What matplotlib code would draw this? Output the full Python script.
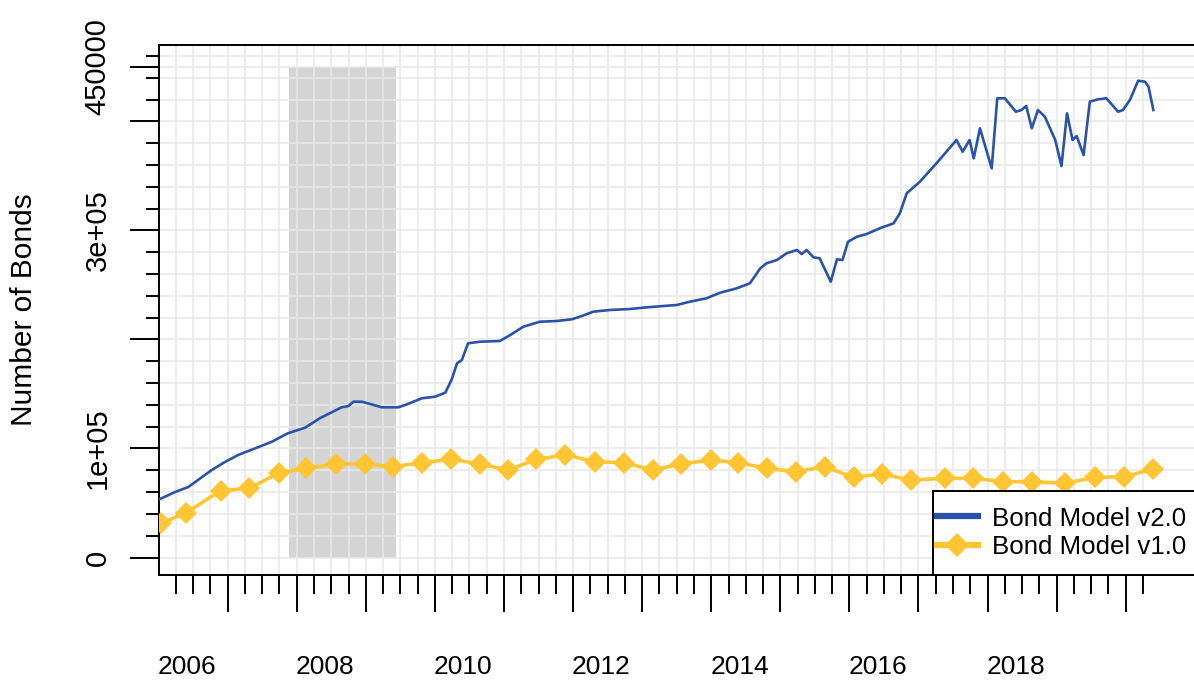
import numpy as np
import matplotlib
matplotlib.use("Agg")
import matplotlib.pyplot as plt
from matplotlib.lines import Line2D
from matplotlib.patches import Rectangle
from matplotlib.transforms import blended_transform_factory

plt.rcParams['font.family'] = ['Liberation Sans', 'DejaVu Sans']

# Bond Model v2.0 : decimal year / number of bonds
v2_years = [2006.02, 2006.24, 2006.43, 2006.57, 2006.77, 2006.96, 2007.15, 2007.40,
            2007.64, 2007.87, 2008.12, 2008.34, 2008.65, 2008.75, 2008.82, 2008.94,
            2009.08, 2009.23, 2009.47, 2009.57, 2009.81, 2010.00, 2010.15, 2010.24,
            2010.32, 2010.39, 2010.48, 2010.65, 2010.94, 2011.09, 2011.28, 2011.52,
            2011.76, 2011.98, 2012.10, 2012.29, 2012.53, 2012.82, 2013.07, 2013.31,
            2013.50, 2013.69, 2013.93, 2014.13, 2014.37, 2014.56, 2014.71, 2014.80,
            2014.95, 2015.09, 2015.24, 2015.31, 2015.38, 2015.48, 2015.57, 2015.73,
            2015.82, 2015.90, 2015.98, 2016.11, 2016.25, 2016.44, 2016.64, 2016.73,
            2016.83, 2017.02, 2017.26, 2017.55, 2017.64, 2017.74, 2017.80, 2017.89,
            2018.06, 2018.14, 2018.25, 2018.41, 2018.49, 2018.56, 2018.64, 2018.73,
            2018.83, 2018.98, 2019.07, 2019.15, 2019.23, 2019.29, 2019.39, 2019.48,
            2019.60, 2019.72, 2019.89, 2019.96, 2020.06, 2020.18, 2020.28, 2020.33,
            2020.40]
v2_bonds = [53670, 60090, 64680, 71100, 80270, 87610, 94030, 100180,
            106230, 113940, 119080, 127980, 137790, 138980, 142930, 142930,
            140540, 137790, 137790, 139900, 146050, 147520, 151190, 162840,
            178160, 181190, 196510, 197970, 198620, 204120, 211740, 216320,
            216960, 218520, 220910, 225490, 227050, 227970, 229530, 230720,
            231640, 234670, 237790, 242930, 246960, 251550, 265310, 269900,
            272930, 279070, 282100, 278430, 282100, 275400, 274490, 253020,
            273570, 272930, 289710, 294300, 296780, 302010, 306590, 315770,
            334120, 344760, 361640, 383010, 372280, 383010, 366220, 393740,
            357050, 421270, 421270, 408970, 410530, 414200, 393740, 410530,
            404380, 383010, 359160, 407500, 383010, 386680, 369250, 418150,
            420350, 421270, 408970, 410530, 419700, 437410, 436490, 431900,
            410530]

# Bond Model v1.0
v1_years = [2006.04, 2006.40, 2006.90, 2007.31, 2007.75, 2008.14, 2008.57, 2008.99,
            2009.40, 2009.81, 2010.24, 2010.65, 2011.06, 2011.47, 2011.89, 2012.32,
            2012.74, 2013.15, 2013.56, 2013.99, 2014.39, 2014.80, 2015.22, 2015.64,
            2016.06, 2016.47, 2016.89, 2017.38, 2017.79, 2018.23, 2018.64, 2019.12,
            2019.56, 2019.98, 2020.40]
v1_bonds = [31370, 41100, 61280, 63480, 77790, 81830, 85780, 85780,
            83300, 86970, 90090, 85780, 80270, 90090, 94030, 87890,
            86970, 80270, 85780, 89450, 86970, 81830, 78710, 83300,
            73570, 76600, 71100, 72660, 72660, 69540, 69540, 68070,
            73570, 74120, 81190]

recession = (2007.89, 2009.44)
shade_top = 450000

ytick_major = [0, 100000, 200000, 300000, 400000, 450000]
ytick_labels = ['0', '1e+05', '', '3e+05', '', '450000']
year_labels = [2006, 2008, 2010, 2012, 2014, 2016, 2018]
series_names = ['Bond Model v2.0', 'Bond Model v1.0']

blue = '#2A52A8'
yellow = '#FFC533'

W, H = 1194, 680
fig = plt.figure(figsize=(W / 100, H / 100), dpi=100)
ax = fig.add_axes([158.6 / W, (H - 575) / H, (1200 - 158.6) / W, (575 - 44.7) / H])

ax.fill_between(recession, 0, shade_top, color='#D4D4D4', lw=0, zorder=0.3)
ax.plot(v2_years, v2_bonds, color=blue, lw=1.9, zorder=3)
ax.plot(v1_years, v1_bonds, color=yellow, lw=2.6, marker='D', ms=11.5,
        markeredgewidth=0, zorder=3)

ax.set_xlim(2006.0, 2006.0 + (1200 - 158.6) / 69.08)
ax.set_ylim(-16055, 470458)

# ticks
ax.set_xticks(np.arange(2007, 2021))
ax.set_xticks([y + q for y in range(2006, 2021) for q in (0.25, 0.5, 0.75)
               if y + q < 2020.4], minor=True)
ax.set_yticks(ytick_major)
ax.set_yticklabels(ytick_labels, rotation=90, va='center', fontsize=21)
ax.set_yticks([v for v in range(20000, 470000, 20000) if v not in ytick_major],
              minor=True)
ax.tick_params(axis='x', which='major', length=26.6, width=1.4, labelbottom=False)
ax.tick_params(axis='x', which='minor', length=13.7, width=1.4)
ax.tick_params(axis='y', which='major', length=20.9, width=1.4, pad=13)
ax.tick_params(axis='y', which='minor', length=9.6, width=1.4)

ax.grid(which='both', color='#E8E8E8', lw=1.1)
ax.set_axisbelow(True)

for s in ('left', 'top', 'bottom'):
    ax.spines[s].set_linewidth(1.4)
ax.spines['right'].set_visible(False)

trans = blended_transform_factory(ax.transData, ax.transAxes)
for yr in year_labels:
    ax.text(yr + 0.41, -0.1735, str(yr), transform=trans, ha='center',
            va='center', fontsize=19)

fig.text(24 / W, 1 - 310 / H, 'Number of Bonds', rotation=90, ha='center',
         va='center', fontsize=21.5)

# legend box
ax.add_patch(Rectangle((0.7433, 0), 0.3, 0.159, transform=ax.transAxes,
                       facecolor='white', edgecolor='black', lw=1.4,
                       zorder=4, clip_on=False))
handles = [Line2D([], [], color=blue, lw=4.5),
           Line2D([], [], color=yellow, lw=4.5, marker='D', ms=12, markeredgewidth=0)]
ax.legend(handles, series_names, loc='center left',
          bbox_to_anchor=(0.7472, 0.0795), frameon=False, borderpad=0,
          borderaxespad=0, fontsize=18.6, handlelength=1.6,
          handletextpad=0.55, labelspacing=0.18, numpoints=1)

fig.savefig('out.png', dpi=100)
